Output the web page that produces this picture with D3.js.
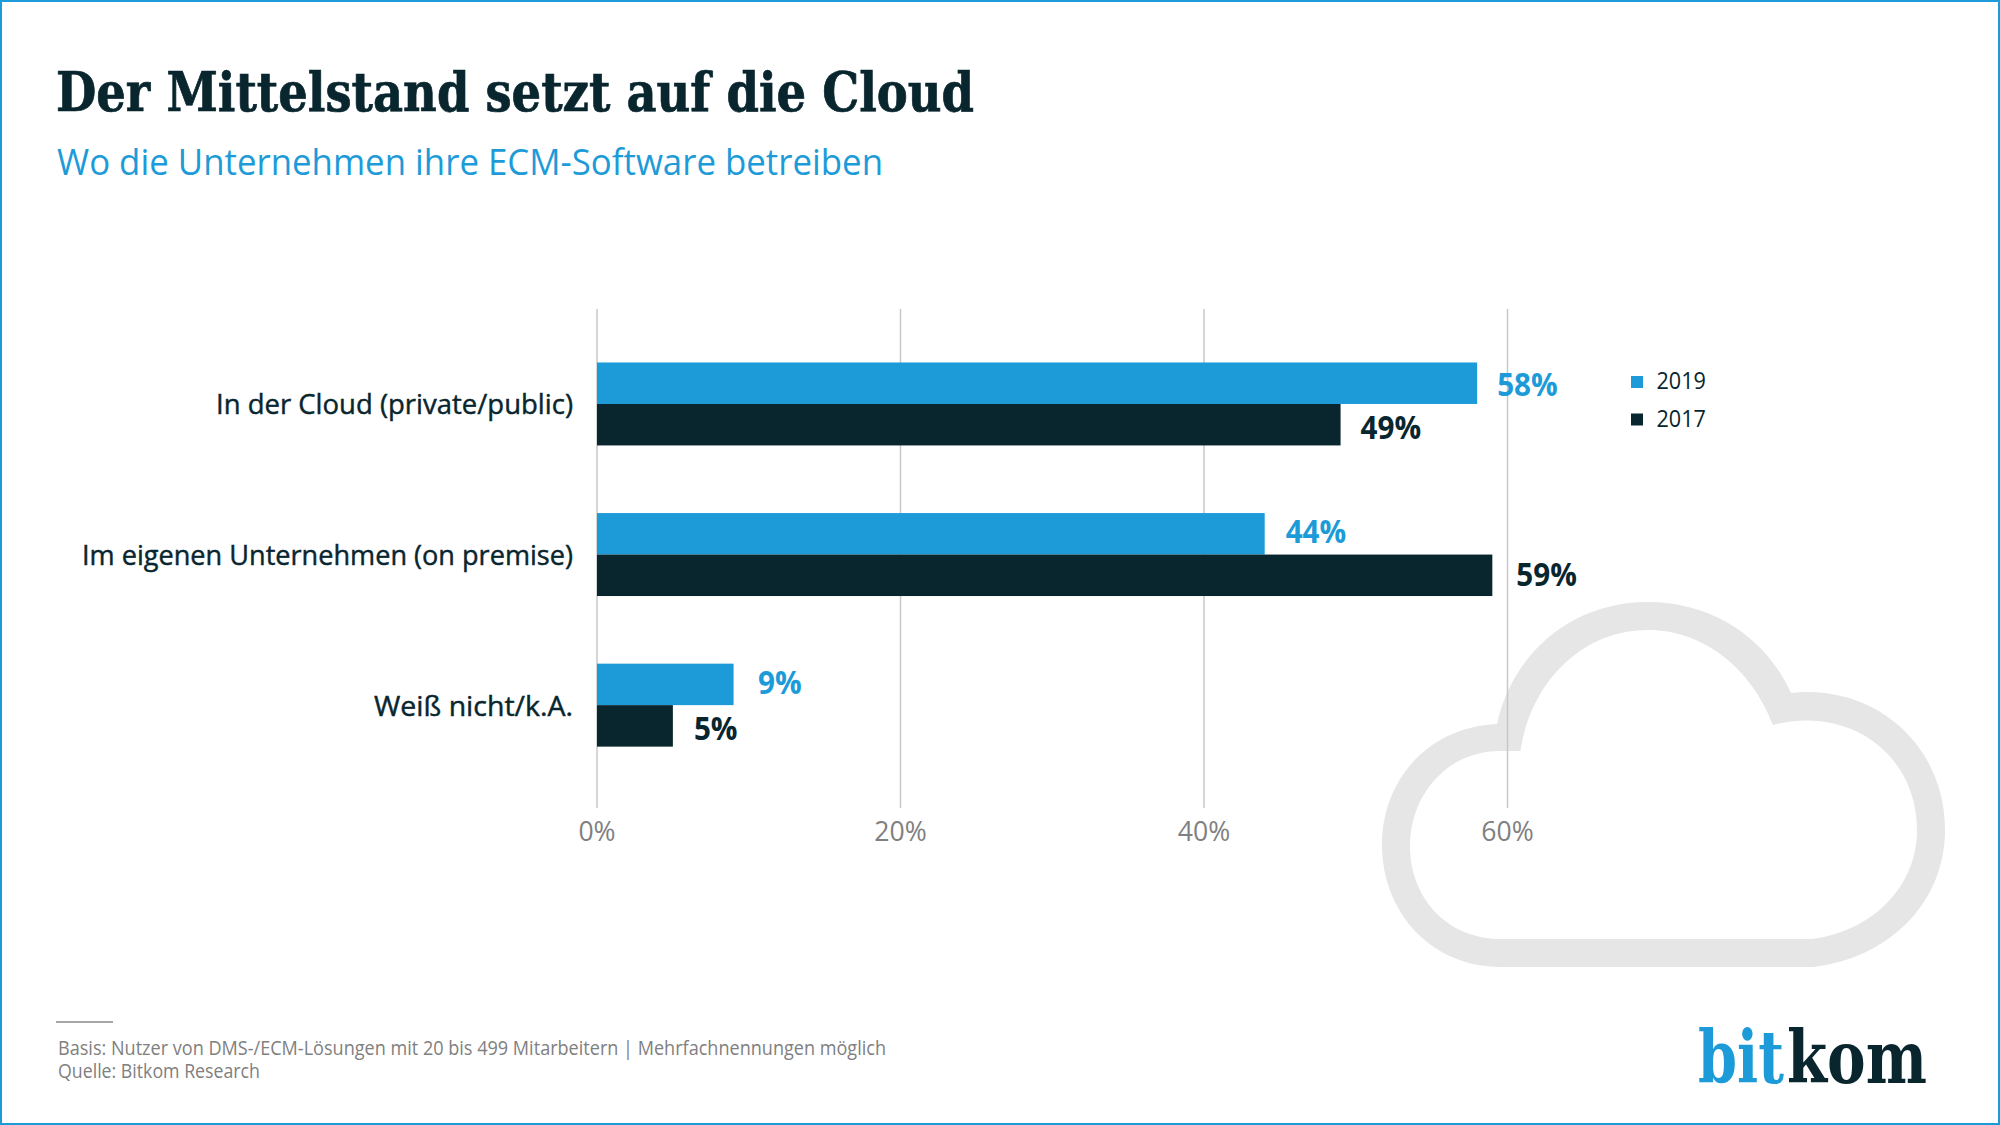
<!DOCTYPE html>
<html>
<head>
<meta charset="utf-8">
<script src="https://cdn.jsdelivr.net/npm/d3@7"></script>
<style>
  html, body { margin: 0; padding: 0; background: #fff; }
  text { font-family: "Open Sans", sans-serif; }
</style>
</head>
<body>
<svg id="chart" width="2000" height="1125"></svg>
<script>
var categories = ["In der Cloud (private/public)", "Im eigenen Unternehmen (on premise)", "Weiß nicht/k.A."];
var seriesNames = ["2019", "2017"];
var values2019 = [58, 44, 9];
var values2017 = [49, 59, 5];
var xTicks = [0, 20, 40, 60];

// hand placed label offsets, the original does not keep them uniform
var labelDx = [[20, 21, 24.4], [20, 24, 21]];
var labelDy = [[12.4, 8.9, 9.5], [13.8, 10.6, 14]];
var categoryWidths = [357, 491, 199];

var blue = "#1d9bd9", dark = "#09262f", grey = "#808080";

var svg = d3.select("#chart");

// the original font is narrower than Open Sans, so squeeze each text by k
function squeeze(sel, k) {
  sel.each(function() {
    d3.select(this).attr("textLength", this.getComputedTextLength() * k).attr("lengthAdjust", "spacingAndGlyphs");
  });
}

svg.append("rect").attr("x", 1).attr("y", 1).attr("width", 1998).attr("height", 1123)
  .attr("fill", "#fff").attr("stroke", blue).attr("stroke-width", 2);

// background cloud
svg.append("path")
  .attr("fill", "#e6e6e6").attr("fill-rule", "evenodd")
  .attr("d", "M1501,967 C1431,967 1382,912 1382,845 C1382,780 1428,727 1497,724 C1512,655 1570,602 1648,602 C1715,602 1767,640 1791,693 C1875,684 1945,745 1945,830 C1945,902 1890,958 1813,967 Z" +
             "M1501,939 C1447,939 1410,898 1410,846 C1410,795 1447,751 1500,751 L1520.5,751 C1530,685 1580,630 1648,630 C1705,630 1752,670 1773,725 C1850,705 1917,755 1917,830 C1917,885 1875,930 1813,939 Z");

var x = d3.scaleLinear().domain([0, 60]).range([597, 1507.5]);
var y = d3.scaleBand().domain(categories).range([317.3, 791.8]).paddingInner(0.449).paddingOuter(0.3);
var ySub = d3.scaleBand().domain(seriesNames).range([0, y.bandwidth()]);

var axis = d3.axisBottom(x).tickValues(xTicks).tickFormat(function(d) { return d + "%"; }).tickSize(-499).offset(0);
var axisG = svg.append("g").attr("transform", "translate(0,808)").call(axis);
axisG.select(".domain").remove();
axisG.selectAll("line").attr("stroke", "#c8c8c8").attr("stroke-width", 1.5);
axisG.selectAll("text").attr("fill", grey).attr("font-size", 28).attr("y", 11).attr("dy", "0.8em").style("font-family", '"Open Sans", sans-serif');
squeeze(axisG.selectAll("text"), 0.95);

var series = [values2019, values2017];
var colors = [blue, dark];

series.forEach(function(vals, s) {
  svg.append("g").selectAll("rect").data(vals).enter().append("rect")
    .attr("x", x(0))
    .attr("y", function(d, i) { return y(categories[i]) + ySub(seriesNames[s]); })
    .attr("width", function(d) { return x(d) - x(0); })
    .attr("height", ySub.bandwidth())
    .attr("fill", colors[s]);
  var labels = svg.append("g").selectAll("text").data(vals).enter().append("text")
    .attr("x", function(d, i) { return x(d) + labelDx[s][i]; })
    .attr("y", function(d, i) { return y(categories[i]) + ySub(seriesNames[s]) + ySub.bandwidth() / 2 + labelDy[s][i]; })
    .attr("fill", colors[s]).attr("font-size", 31.5).attr("font-weight", 700)
    .text(function(d) { return d + "%"; });
  squeeze(labels, 0.94);
});

svg.append("g").selectAll("text").data(categories).enter().append("text")
  .attr("x", 573)
  .attr("y", function(d) { return y(d) + y.bandwidth() / 2 + 10.5; })
  .attr("text-anchor", "end").attr("fill", dark).attr("stroke", dark).attr("stroke-width", 0.45).attr("font-size", 28)
  .attr("textLength", function(d, i) { return categoryWidths[i]; }).attr("lengthAdjust", "spacingAndGlyphs")
  .text(function(d) { return d; });

// legend
seriesNames.forEach(function(name, i) {
  svg.append("rect").attr("x", 1631).attr("y", 376 + i * 37.5).attr("width", 12).attr("height", 12).attr("fill", colors[i]);
  var t = svg.append("text").attr("x", 1656.5).attr("y", 389 + i * 37.6).attr("fill", dark).attr("font-size", 24).text(name);
  squeeze(t, 0.9);
});

// titles
svg.append("text").attr("x", 56).attr("y", 110.5).attr("fill", dark).attr("stroke", dark).attr("stroke-width", 0.7)
  .attr("font-size", 55).attr("font-weight", 700)
  .style("font-family", '"DejaVu Serif Condensed", "DejaVu Serif", serif')
  .attr("textLength", 918).attr("lengthAdjust", "spacingAndGlyphs")
  .text("Der Mittelstand setzt auf die Cloud");
svg.append("text").attr("x", 57).attr("y", 175).attr("fill", blue).attr("font-size", 37)
  .attr("textLength", 826).attr("lengthAdjust", "spacingAndGlyphs")
  .text("Wo die Unternehmen ihre ECM-Software betreiben");

// footer
svg.append("rect").attr("x", 56).attr("y", 1021).attr("width", 57).attr("height", 2).attr("fill", "#a6a6a6");
svg.append("text").attr("x", 58).attr("y", 1055).attr("fill", grey).attr("font-size", 20)
  .attr("textLength", 828).attr("lengthAdjust", "spacingAndGlyphs")
  .text("Basis: Nutzer von DMS-/ECM-Lösungen mit 20 bis 499 Mitarbeitern | Mehrfachnennungen möglich");
svg.append("text").attr("x", 58).attr("y", 1078).attr("fill", grey).attr("font-size", 20)
  .attr("textLength", 202).attr("lengthAdjust", "spacingAndGlyphs")
  .text("Quelle: Bitkom Research");

// logo
var logoFont = '"DejaVu Serif Condensed", "DejaVu Serif", serif';
svg.append("text").attr("x", 1698).attr("y", 1083).attr("font-size", 72).attr("font-weight", 700)
  .style("font-family", logoFont).attr("fill", blue)
  .attr("textLength", 86).attr("lengthAdjust", "spacingAndGlyphs").text("bit");
svg.append("text").attr("x", 1787).attr("y", 1083).attr("font-size", 72).attr("font-weight", 700)
  .style("font-family", logoFont).attr("fill", dark)
  .attr("textLength", 140).attr("lengthAdjust", "spacingAndGlyphs").text("kom");
</script>
</body>
</html>
